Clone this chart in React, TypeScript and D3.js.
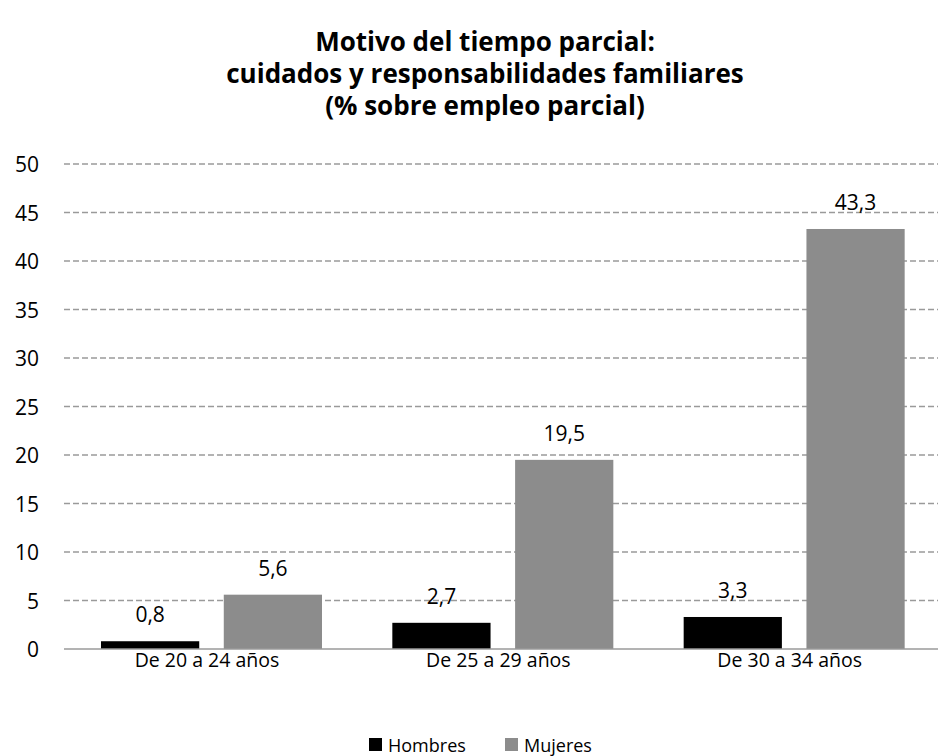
import React, { useEffect, useRef } from 'react';
import * as d3 from 'd3';

const titleLines = ['Motivo del tiempo parcial:', 'cuidados y responsabilidades familiares', '(% sobre empleo parcial)'];
const groups = ['De 20 a 24 años', 'De 25 a 29 años', 'De 30 a 34 años'];
const seriesNames = ['Hombres', 'Mujeres'];
const seriesColors = ['#000000', '#8c8c8c'];
const hombres = [0.8, 2.7, 3.3];
const mujeres = [5.6, 19.5, 43.3];
const yTicks = [0, 5, 10, 15, 20, 25, 30, 35, 40, 45, 50];

export default function App() {
  const ref = useRef<SVGSVGElement>(null);

  useEffect(() => {
    if (!ref.current) return;
    const svg = d3.select(ref.current);
    svg.selectAll('*').remove();

    const left = 64, right = 938, top = 164, bottom = 649;
    const font = 'Open Sans, sans-serif';

    // title
    svg.append('g').selectAll('text')
      .data(titleLines).enter().append('text')
      .attr('x', 485)
      .attr('y', (d, i) => 51 + i * 32)
      .attr('text-anchor', 'middle')
      .style('font-family', font)
      .style('font-weight', 'bold')
      .style('font-size', '26px')
      .style('fill', '#000')
      .text(d => d);

    const y = d3.scaleLinear().domain([0, 50]).range([bottom, top]);
    const x0 = d3.scaleBand<string>().domain(groups).range([left, right]);
    const x1 = d3.scaleBand<string>().domain(seriesNames).range([37, 258]).paddingInner(0.2);

    // grid
    svg.append('g').selectAll('line')
      .data(yTicks.filter(t => t > 0)).enter().append('line')
      .attr('x1', left).attr('x2', right)
      .attr('y1', d => y(d)).attr('y2', d => y(d))
      .attr('stroke', '#9a9a9a')
      .attr('stroke-width', 1.5)
      .attr('stroke-dasharray', '6,3');

    // y labels
    svg.append('g').selectAll('text')
      .data(yTicks).enter().append('text')
      .attr('x', 39)
      .attr('y', d => y(d) + 8)
      .attr('text-anchor', 'end')
      .style('font-family', font)
      .style('font-size', '21px')
      .style('fill', '#000')
      .text(d => d);

    const rows = groups.map((g, i) => ({ g, vals: [hombres[i], mujeres[i]] }));

    rows.forEach(r => {
      const gx = x0(r.g)!;
      r.vals.forEach((v, j) => {
        const s = seriesNames[j];
        svg.append('rect')
          .attr('x', gx + x1(s)!)
          .attr('y', y(v))
          .attr('width', x1.bandwidth())
          .attr('height', bottom - y(v))
          .attr('fill', seriesColors[j]);
        svg.append('text')
          .attr('x', gx + x1(s)! + x1.bandwidth() / 2)
          .attr('y', y(v) - 19)
          .attr('text-anchor', 'middle')
          .style('font-family', font)
          .style('font-size', '21px')
          .style('fill', '#000')
          .text(d3.format('.1f')(v).replace('.', ','));
      });
    });

    // x axis line
    svg.append('line')
      .attr('x1', left).attr('x2', right)
      .attr('y1', bottom).attr('y2', bottom)
      .attr('stroke', '#9a9a9a')
      .attr('stroke-width', 1.5);

    // category labels
    svg.append('g').selectAll('text')
      .data(groups).enter().append('text')
      .attr('x', d => x0(d)! + 143)
      .attr('y', 667)
      .attr('text-anchor', 'middle')
      .style('font-family', font)
      .style('font-size', '19.5px')
      .style('fill', '#000')
      .text(d => d);

    // legend
    const legendX = [369, 505];
    const legend = svg.append('g').selectAll('g')
      .data(seriesNames).enter().append('g')
      .attr('transform', (d, i) => `translate(${legendX[i]}, 738)`);
    legend.append('rect').attr('width', 13).attr('height', 13).attr('fill', (d, i) => seriesColors[i]);
    legend.append('text')
      .attr('x', 19).attr('y', 14)
      .style('font-family', font)
      .style('font-size', '18px')
      .style('fill', '#000')
      .text(d => d);
  }, []);

  return (
    <svg ref={ref} width={940} height={756}
      style={{ display: 'block', background: '#fff', position: 'absolute', left: 0, top: 0 }} />
  );
}
